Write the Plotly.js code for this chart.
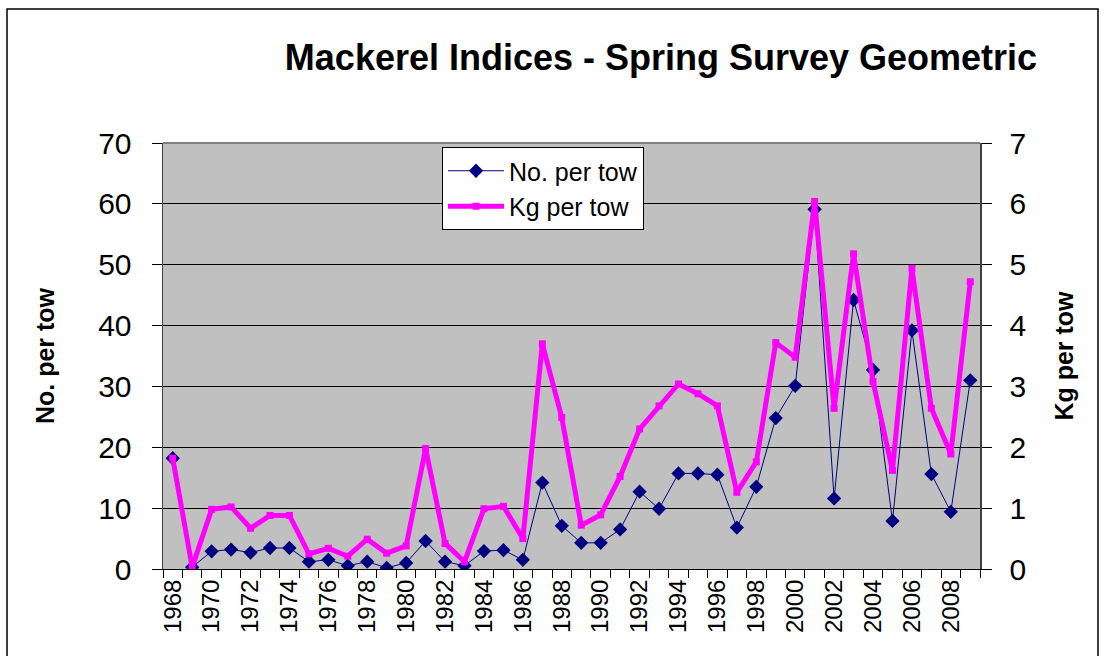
<!DOCTYPE html>
<html>
<head>
<meta charset="utf-8">
<script src="https://cdn.plot.ly/plotly-3.0.1.min.js"></script>
<style>
  html, body { margin: 0; padding: 0; background: #ffffff; }
  #chart { width: 1105px; height: 656px; }
</style>
</head>
<body>
<div id="chart"></div>
<script>
// ---- Data ----
const years = [1968, 1969, 1970, 1971, 1972, 1973, 1974, 1975, 1976, 1977,
               1978, 1979, 1980, 1981, 1982, 1983, 1984, 1985, 1986, 1987,
               1988, 1989, 1990, 1991, 1992, 1993, 1994, 1995, 1996, 1997,
               1998, 1999, 2000, 2001, 2002, 2003, 2004, 2005, 2006, 2007,
               2008, 2009];

const noPerTow = [18.2, 0.3, 2.9, 3.2, 2.7, 3.45, 3.45, 1.2, 1.5, 0.55,
                  1.2, 0.2, 1.0, 4.6, 1.2, 0.55, 2.95, 3.1, 1.5, 14.2,
                  7.1, 4.3, 4.3, 6.5, 12.7, 9.9, 15.7, 15.7, 15.5, 6.8,
                  13.5, 24.8, 30.1, 59.1, 11.6, 44.2, 32.7, 7.9, 39.2, 15.6,
                  9.4, 31.0];

const kgPerTow = [1.82, 0.03, 0.98, 1.02, 0.67, 0.88, 0.88, 0.25, 0.34, 0.21,
                  0.49, 0.26, 0.38, 1.98, 0.42, 0.12, 0.99, 1.03, 0.5, 3.7,
                  2.49, 0.72, 0.89, 1.52, 2.3, 2.68, 3.04, 2.88, 2.68, 1.26,
                  1.76, 3.72, 3.48, 6.04, 2.64, 5.18, 3.08, 1.62, 4.94, 2.64,
                  1.89, 4.72];

const yearTickVals = [1968, 1970, 1972, 1974, 1976, 1978, 1980, 1982, 1984, 1986,
                      1988, 1990, 1992, 1994, 1996, 1998, 2000, 2002, 2004, 2006, 2008];
const yearTickText = yearTickVals.map(String);

const titleText = "Mackerel Indices - Spring Survey Geometric";
const leftTitle = "No. per tow";
const rightTitle = "Kg per tow";

const FONT = "Liberation Sans, Arial, Helvetica, sans-serif";

const traces = [
  {
    x: years, y: noPerTow, name: "No. per tow", type: "scatter", mode: "lines+markers",
    line: { color: "#000080", width: 1 },
    marker: { symbol: "diamond", size: 11, color: "#000080" },
    yaxis: "y"
  },
  {
    x: years, y: kgPerTow, name: "Kg per tow", type: "scatter", mode: "lines+markers",
    line: { color: "#FF00FF", width: 5 },
    marker: { symbol: "square", size: 7, color: "#FF00FF" },
    yaxis: "y2"
  }
];

// plot area: x 163..980, y 143..569
const L = 163, R = 980, T = 143, B = 569, W = 1105, H = 656;
const pw = R - L, ph = B - T;
const px = v => (v - L) / pw;
const py = v => (B - v) / ph;

const layout = {
  width: W, height: H,
  margin: { l: L, r: W - R, t: T, b: H - B, pad: 0 },
  paper_bgcolor: "#ffffff",
  plot_bgcolor: "#C0C0C0",
  font: { family: FONT, color: "#000000" },
  showlegend: true,
  title: {
    text: "<b>" + titleText + "</b>",
    font: { family: FONT, size: 36, color: "#000000" },
    x: 661 / W, xanchor: "center", xref: "container",
    y: 1 - 57 / H, yanchor: "middle", yref: "container"
  },
  xaxis: {
    range: [1967.5, 2009.5],
    tickmode: "array",
    tickvals: yearTickVals,
    ticktext: yearTickText,
    tickangle: -90,
    ticks: "",
    tickfont: { family: FONT, size: 24, color: "#000000" },
    ticklabelstandoff: 0,
    showgrid: false,
    zeroline: false,
    showline: true,
    linecolor: "#000000",
    linewidth: 1,
    minor: { tick0: 1967.5, dtick: 1, ticks: "outside", ticklen: 8, tickcolor: "#000000", tickwidth: 1, showgrid: false }
  },
  yaxis: {
    range: [0, 70],
    dtick: 10,
    tick0: 0,
    ticks: "outside",
    ticklen: 10,
    tickcolor: "#000000",
    tickfont: { family: FONT, size: 30, color: "#000000" },
    ticklabelstandoff: 14,
    showgrid: true,
    gridcolor: "#000000",
    gridwidth: 1,
    zeroline: false,
    showline: true,
    linecolor: "#404040",
    linewidth: 1.5,
    title: { text: "<b>" + leftTitle + "</b>", font: { family: FONT, size: 25, color: "#000000" }, standoff: 36 }
  },
  yaxis2: {
    range: [0, 7],
    dtick: 1,
    tick0: 0,
    overlaying: "y",
    side: "right",
    ticks: "outside",
    ticklen: 10,
    tickcolor: "#000000",
    tickfont: { family: FONT, size: 30, color: "#000000" },
    ticklabelstandoff: 12,
    showgrid: false,
    zeroline: false,
    showline: true,
    linecolor: "#404040",
    linewidth: 1.5,
    title: { text: "<b>" + rightTitle + "</b>", font: { family: FONT, size: 25, color: "#000000" }, standoff: 30 }
  },
  legend: {
    x: px(442), y: py(147), xanchor: "left", yanchor: "top",
    bgcolor: "#ffffff", bordercolor: "#000000", borderwidth: 1,
    font: { family: FONT, size: 25, color: "#000000" },
    itemwidth: 56,
    tracegroupgap: 6
  },
  shapes: [
    // outer chart border
    { type: "rect", xref: "paper", yref: "paper",
      x0: px(7), x1: px(1098), y0: py(9), y1: py(662),
      line: { color: "#000000", width: 1.5 }, fillcolor: "rgba(0,0,0,0)", layer: "below" },
    // grey top border of plot area
    { type: "line", xref: "paper", yref: "paper", x0: 0, x1: 1, y0: 1, y1: 1,
      line: { color: "#808080", width: 2 } }
  ]
};

Plotly.newPlot("chart", traces, layout, { displayModeBar: false, staticPlot: true });
</script>
</body>
</html>
